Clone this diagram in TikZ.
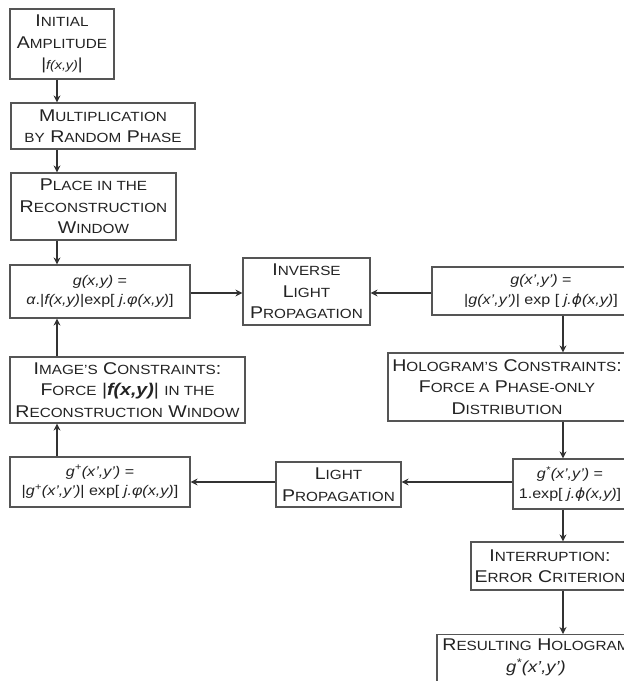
\documentclass[tikz,border=0pt]{standalone}
\usepackage{fontspec}
\setmainfont[FakeStretch=1.15]{Liberation Sans}
\newfontfamily\djv[FakeStretch=1.1]{DejaVu Sans}
\usetikzlibrary{arrows.meta}
\newcommand\sm[1]{{\fontsize{13.3}{21.5}\selectfont #1}}
\definecolor{boxc}{RGB}{85,85,85}
\definecolor{linec}{RGB}{50,50,50}
\definecolor{txtc}{RGB}{35,35,35}
\tikzset{
  box/.style={draw=boxc, line width=1.2pt, align=center, inner sep=0pt, text=txtc,
    font=\fontsize{17}{21.5}\selectfont},
  fbox/.style={box, font=\fontsize{14}{19.5}\selectfont},
  plain/.style={align=center, inner sep=0pt, text=txtc, font=\fontsize{17}{21.5}\selectfont},
  arr/.style={draw=linec, line width=2.1pt, -{Stealth[length=7pt,width=7pt]}}
}
\begin{document}
\begin{tikzpicture}[x=1pt,y=-1pt]
\useasboundingbox (0,0) rectangle (624,681);
\clip (0,0) rectangle (624,681);
\fill[white] (0,0) rectangle (624,681);
\coordinate (lx) at (57,0);
\coordinate (rx) at (563,0);
% left column
\node[box, minimum width=104pt, minimum height=70pt] (init) at (62,44)
  {I\sm{NITIAL}\\A\sm{MPLITUDE}\\{\fontsize{12.5}{16}\selectfont{\fontsize{16}{16}\selectfont|}\textit{f(x,y)}{\fontsize{16}{16}\selectfont|}}};
\node[box, minimum width=184pt, minimum height=46pt] (mult) at (103,126)
  {M\sm{ULTIPLICATION}\\\sm{BY} R\sm{ANDOM} P\sm{HASE}};
\node[box, minimum width=165pt, minimum height=67pt] (place) at (93.5,206.5)
  {P\sm{LACE IN THE}\\R\sm{ECONSTRUCTION}\\W\sm{INDOW}};
\node[fbox, minimum width=180pt, minimum height=53pt] (gxy) at (100,291.5)
  {\textit{g(x,y)} =\\\textit{α}.|\textit{f(x,y)}|exp[ \textit{j.φ(x,y)}]};
\node[box, minimum width=235pt, minimum height=66pt] (imgc) at (127.5,390)
  {I\sm{MAGE'S} C\sm{ONSTRAINTS}:\\F\sm{ORCE} |\textbf{\textit{f(x,y)}}| \sm{IN THE}\\R\sm{ECONSTRUCTION} W\sm{INDOW}};
\node[fbox, minimum width=180pt, minimum height=50pt] (gplus) at (100,482)
  {\textit{g\textsuperscript{+}(x',y')} =\\|\textit{g\textsuperscript{+}(x',y')}| exp[ \textit{j.φ(x,y)}]};
% middle
\node[box, minimum width=127pt, minimum height=67pt] (ilp) at (306.5,291.5)
  {I\sm{NVERSE}\\L\sm{IGHT}\\P\sm{ROPAGATION}};
\node[box, minimum width=125pt, minimum height=45pt] (lp) at (338.5,484.5)
  {L\sm{IGHT}\\P\sm{ROPAGATION}};
% right column
\node[fbox, minimum width=218pt, minimum height=48pt] (gxp) at (541,291)
  {\textit{g(x',y')} =\\|\textit{g(x',y')}| exp [ \textit{j.{\djv\itshape ϕ}(x,y)}]};
\node[box, minimum width=238pt, minimum height=68pt] (holo) at (507,387)
  {H\sm{OLOGRAM'S} C\sm{ONSTRAINTS}:\\F\sm{ORCE A} P\sm{HASE-ONLY}\\D\sm{ISTRIBUTION}};
\node[fbox, minimum width=114pt, minimum height=50pt] (gstar) at (570,484)
  {\textit{g\textsuperscript{*}(x',y')} =\\1.exp[ \textit{j.{\djv\itshape ϕ}(x,y)}]};
\node[box, minimum width=158pt, minimum height=48pt] (intr) at (550,566)
  {I\sm{NTERRUPTION}:\\E\sm{RROR} C\sm{RITERION}};
\node[box, minimum width=198pt, minimum height=70pt, anchor=north] (res) at (536,634) {};
\node[plain, anchor=north] (restxt) at ([yshift=-5pt]res.north)
  {R\sm{ESULTING} H\sm{OLOGRAM}\\{\fontsize{16}{22}\selectfont\textit{g\textsuperscript{*}(x',y')}}};
% arrows
\draw[arr] (init.south -| lx) -- (mult.north -| lx);
\draw[arr] (mult.south -| lx) -- (place.north -| lx);
\draw[arr] (place.south -| lx) -- (gxy.north -| lx);
\coordinate (ya) at (0,293);
\draw[arr] (gxy.east |- ya) -- (ilp.west |- ya);
\draw[arr] (gxp.west |- ya) -- (ilp.east |- ya);
\draw[arr] (gxp.south -| rx) -- (holo.north -| rx);
\draw[arr] (holo.south -| rx) -- (gstar.north -| rx);
\coordinate (yb) at (0,482);
\draw[arr] (gstar.west |- yb) -- (lp.east |- yb);
\draw[arr] (lp.west |- yb) -- (gplus.east |- yb);
\draw[arr] (gplus.north -| lx) -- (imgc.south -| lx);
\draw[arr] (imgc.north -| lx) -- (gxy.south -| lx);
\draw[arr] (gstar.south -| rx) -- (intr.north -| rx);
\draw[arr] (intr.south -| rx) -- (res.north -| rx);
\end{tikzpicture}
\end{document}
